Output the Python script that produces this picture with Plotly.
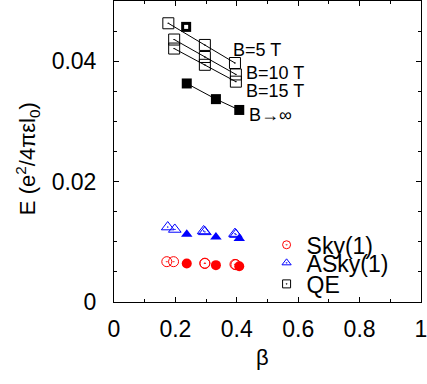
import plotly.graph_objects as go

# beta values and energies (units of e^2/4*pi*eps*l0)
qe_beta_5t = [0.177, 0.296, 0.394]
qe_e_5t = [0.0463, 0.0427, 0.0397]
qe_beta_10t = [0.196, 0.296, 0.397]
qe_e_10t = [0.0436, 0.0407, 0.0378]
qe_beta_15t = [0.196, 0.296, 0.397]
qe_e_15t = [0.0421, 0.0394, 0.0366]
qe_beta_inf = [0.237, 0.332, 0.408]
qe_e_inf = [0.0363, 0.0337, 0.0319]
qe_beta_mixed = [0.235]
qe_e_mixed = [0.0457]

sky_beta_5t = [0.172, 0.296, 0.394]
sky_e_5t = [0.00670, 0.00645, 0.00625]
sky_beta_10t = [0.194, 0.296, 0.397]
sky_e_10t = [0.00670, 0.00640, 0.00620]
sky_beta_inf = [0.237, 0.332, 0.408]
sky_e_inf = [0.00640, 0.00612, 0.00595]

asky_beta_5t = [0.175, 0.292, 0.394]
asky_e_5t = [0.01245, 0.01180, 0.01136]
asky_beta_10t = [0.198, 0.296, 0.397]
asky_e_10t = [0.01205, 0.01165, 0.01120]
asky_beta_inf = [0.237, 0.332, 0.408]
asky_e_inf = [0.01124, 0.01080, 0.01053]

field_labels = ["B=5 T", "B=10 T", "B=15 T", "B\u2192\u221e"]
field_label_beta = [0.381, 0.4245, 0.4245, 0.432]
field_label_e = [0.0419, 0.0380, 0.0351, 0.0311]

RED = "#ff0000"
BLUE = "#0000ff"
BLACK = "#000000"
FONT = "Liberation Sans, Arial, sans-serif"

fig = go.Figure()


def open_marker(symbol, color, size=10):
    return dict(symbol=symbol, size=size, color=color,
                line=dict(color=color, width=1))


# QE connecting lines
for bx, by in [(qe_beta_5t, qe_e_5t), (qe_beta_10t, qe_e_10t),
               (qe_beta_15t, qe_e_15t), (qe_beta_inf, qe_e_inf)]:
    fig.add_trace(go.Scatter(x=bx, y=by, mode="lines",
                             line=dict(color=BLACK, width=1),
                             showlegend=False, hoverinfo="skip"))

# QE markers
for bx, by in [(qe_beta_5t, qe_e_5t), (qe_beta_10t, qe_e_10t),
               (qe_beta_15t, qe_e_15t)]:
    fig.add_trace(go.Scatter(x=bx, y=by, mode="markers",
                             marker=open_marker("square-open-dot", BLACK, 11),
                             showlegend=False))
fig.add_trace(go.Scatter(x=qe_beta_inf, y=qe_e_inf, mode="markers",
                         marker=dict(symbol="square", size=10, color=BLACK),
                         showlegend=False))
# partly filled square: black square with a white centre
fig.add_trace(go.Scatter(x=qe_beta_mixed, y=qe_e_mixed, mode="markers",
                         marker=dict(symbol="square", size=10, color=BLACK),
                         showlegend=False))
fig.add_trace(go.Scatter(x=qe_beta_mixed, y=qe_e_mixed, mode="markers",
                         marker=dict(symbol="square", size=4, color="white",
                                     line=dict(width=0)),
                         showlegend=False))

# Sky(1)
for bx, by in [(sky_beta_5t, sky_e_5t), (sky_beta_10t, sky_e_10t)]:
    fig.add_trace(go.Scatter(x=bx, y=by, mode="markers",
                             marker=open_marker("circle-open-dot", RED),
                             showlegend=False))
fig.add_trace(go.Scatter(x=sky_beta_inf, y=sky_e_inf, mode="markers",
                         marker=dict(symbol="circle", size=10, color=RED),
                         showlegend=False))

# ASky(1)
for bx, by in [(asky_beta_5t, asky_e_5t), (asky_beta_10t, asky_e_10t)]:
    fig.add_trace(go.Scatter(x=bx, y=by, mode="markers",
                             marker=open_marker("triangle-up-open-dot", BLUE, 11),
                             showlegend=False))
fig.add_trace(go.Scatter(x=asky_beta_inf, y=asky_e_inf, mode="markers",
                         marker=dict(symbol="triangle-up", size=10, color=BLUE),
                         showlegend=False))

# legend keys (smaller symbols than the data markers)
legend_keys = [("Sky(1)", "circle-open-dot", RED, "legend"),
               ("ASky(1)", "triangle-up-open-dot", BLUE, "legend2"),
               ("QE", "square-open-dot", BLACK, "legend3")]
for name, sym, col, leg in legend_keys:
    fig.add_trace(go.Scatter(x=[None], y=[None], mode="markers", name=name,
                             marker=dict(symbol=sym, size=8, color=col,
                                         line=dict(color=col, width=1)),
                             legend=leg, showlegend=True))

for txt, bx, by in zip(field_labels, field_label_beta, field_label_e):
    fig.add_annotation(x=bx, y=by, text=txt, showarrow=False,
                       xanchor="left", yanchor="middle",
                       font=dict(size=18, color=BLACK,
                                 family="Liberation Sans, DejaVu Sans, sans-serif"))

# axis titles
fig.add_annotation(xref="paper", yref="paper", x=-0.283, y=0.475,
                   xanchor="center", yanchor="middle",
                   text="E (e<sup>2</sup>/4\u03c0\u03b5l<sub>0</sub>)",
                   textangle=-90, showarrow=False,
                   font=dict(size=22, color=BLACK, family=FONT))
fig.add_annotation(xref="paper", yref="paper", x=0.485, y=-0.185,
                   xanchor="center", yanchor="middle",
                   text="\u03b2", showarrow=False,
                   font=dict(size=22, color=BLACK, family=FONT))

legend_common = dict(xanchor="left", yanchor="middle", bgcolor="rgba(0,0,0,0)",
                     borderwidth=0, font=dict(size=23, color=BLACK, family=FONT),
                     itemsizing="trace")
axis_common = dict(showline=True, linecolor=BLACK, linewidth=1, mirror="allticks",
                   ticks="inside", ticklen=5, tickcolor=BLACK, showgrid=False,
                   zeroline=False, ticklabeloverflow="allow",
                   tickfont=dict(size=23, color=BLACK, family=FONT),
                   minor=dict(ticks="inside", ticklen=3, tickcolor=BLACK,
                              showgrid=False))

fig.update_layout(
    width=427, height=384,
    margin=dict(l=114, r=6, t=1, b=82),
    paper_bgcolor="white", plot_bgcolor="white",
    font=dict(family=FONT, color=BLACK),
    xaxis=dict(range=[0, 1], tickvals=[0, 0.2, 0.4, 0.6, 0.8, 1],
               ticktext=["0", "0.2", "0.4", "0.6", "0.8", "1"],
               ticklabelstandoff=6,
               **axis_common),
    yaxis=dict(range=[0, 0.05], tickvals=[0, 0.02, 0.04],
               ticktext=["0", "0.02", "0.04"], ticklabelstandoff=12,
               **axis_common),
    legend=dict(x=0.497, y=0.19, **legend_common),
    legend2=dict(x=0.497, y=0.13, **legend_common),
    legend3=dict(x=0.497, y=0.06, **legend_common),
)
fig.update_xaxes(minor_dtick=0.1)
fig.update_yaxes(minor_dtick=0.005)

fig.write_html("out.html")
